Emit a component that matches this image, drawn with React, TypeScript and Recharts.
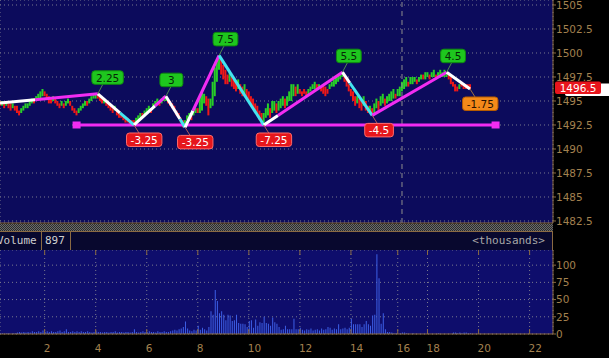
import React from 'react';
import { ComposedChart, Bar, Line, XAxis, YAxis, CartesianGrid, ReferenceLine, ReferenceDot, Cell } from 'recharts';

// ---------- data ----------
const xTicks = [21, 45, 69, 93, 117, 141, 165, 187, 201, 225, 249];
const xTickLabels = ['2', '4', '6', '8', '10', '12', '14', '16', '18', '20', '22'];
const priceTicks = [1482.5, 1485, 1487.5, 1490, 1492.5, 1495, 1497.5, 1500, 1502.5, 1505];
const volumeTicks = [0, 25, 50, 75, 100];

const priceBars: [number, number][] = [
  [1494.5, 1495], [1494.5, 1495], [1494.25, 1494.75], [1494.5, 1495], [1494.25, 1494.75], [1494, 1494.75], [1494.25, 1494.75], [1494, 1494.5], [1493.75, 1494.5], [1493.5, 1494],
  [1493.75, 1494.25], [1494, 1494.5], [1494.25, 1494.75], [1494.25, 1494.75], [1494.5, 1495], [1494.75, 1495.25], [1494.75, 1495.25], [1495, 1495.5], [1495.25, 1495.75], [1495.25, 1496],
  [1495.5, 1496.25], [1495.5, 1496], [1495.25, 1495.75], [1494.75, 1495.5], [1494.75, 1495.25], [1495, 1495.5], [1494.75, 1495.25], [1494.5, 1495], [1494.25, 1494.75], [1494.5, 1495],
  [1494.25, 1494.75], [1494.5, 1495], [1494.75, 1495.25], [1494.5, 1495], [1494, 1494.5], [1493.75, 1494.25], [1493.5, 1494], [1493.75, 1494.25], [1494, 1494.5], [1494.25, 1494.75],
  [1494.5, 1495], [1494.5, 1495], [1494.75, 1495.25], [1495, 1495.5], [1495.25, 1495.75], [1495.25, 1495.75], [1495.25, 1495.75], [1495, 1495.5], [1494.75, 1495.25], [1494.75, 1495.25],
  [1494.5, 1495], [1494.25, 1494.75], [1494, 1494.5], [1493.75, 1494.25], [1494, 1494.5], [1493.5, 1494], [1493.25, 1493.75], [1493.25, 1493.75], [1493, 1493.5], [1492.75, 1493.25],
  [1492.75, 1493.25], [1492.5, 1493], [1492.5, 1493], [1492.5, 1493], [1492.75, 1493.25], [1493, 1493.5], [1493.25, 1493.75], [1493.25, 1493.75], [1493.5, 1494], [1493.75, 1494.25],
  [1494, 1494.5], [1493.75, 1494.25], [1494.25, 1494.75], [1494.5, 1495], [1494.75, 1495.25], [1494.5, 1495], [1494.75, 1495.25], [1495, 1495.5], [1495, 1495.5], [1494.75, 1495.25],
  [1494.5, 1495], [1494.25, 1494.75], [1494, 1494.5], [1493.5, 1494], [1493.25, 1493.75], [1492.75, 1493.25], [1492.25, 1493], [1492.5, 1493], [1493, 1493.5], [1493.25, 1493.75],
  [1493, 1493.5], [1493.5, 1494], [1493.75, 1494.25], [1493.75, 1494.25], [1493.75, 1495.5], [1494, 1496], [1494.75, 1495.75], [1494.5, 1495.5], [1493.5, 1495.25], [1494.25, 1495.25],
  [1494.5, 1497], [1495.5, 1498.5], [1497, 1499.25], [1498.25, 1499.75], [1497.75, 1499.5], [1497.25, 1498.75], [1496.75, 1498.25], [1496.75, 1497.75], [1497, 1498], [1496.5, 1497.5],
  [1496.25, 1497.25], [1496, 1497], [1496.25, 1497.25], [1495.75, 1496.75], [1495.5, 1496.5], [1495.75, 1496.75], [1495.25, 1496.25], [1495, 1496], [1494.5, 1495.5], [1494.25, 1495.25],
  [1493.75, 1494.75], [1493.5, 1494.5], [1493, 1494], [1492.5, 1493.75], [1492.75, 1493.75], [1493.25, 1494.25], [1493.5, 1494.75], [1493.25, 1494.25], [1493.75, 1495], [1494, 1495],
  [1493.75, 1494.75], [1494, 1495], [1494.25, 1495.25], [1494.5, 1495.5], [1494.25, 1495.25], [1494.5, 1495.5], [1495, 1496], [1495, 1496.75], [1495.5, 1496.75], [1495.5, 1496.5],
  [1495.75, 1496.75], [1495.75, 1496.25], [1495.5, 1496], [1495.75, 1496.25], [1495.5, 1496], [1495.75, 1496.25], [1496, 1496.5], [1496.25, 1496.75], [1496.25, 1497], [1496.25, 1496.75],
  [1496.25, 1496.75], [1496, 1496.5], [1495.75, 1496.75], [1495.5, 1496.5], [1495.75, 1496.25], [1496.25, 1496.75], [1496.5, 1497], [1496.5, 1497.25], [1496.75, 1497.5], [1497, 1497.75],
  [1497.25, 1497.75], [1497.5, 1498], [1497, 1497.75], [1496.5, 1497.25], [1496, 1496.75], [1495.5, 1496.25], [1495, 1496], [1494.5, 1495.5], [1494.75, 1495.5], [1494.25, 1495.25],
  [1494, 1495], [1494.5, 1495.5], [1494, 1495], [1493.75, 1494.5], [1493.75, 1494.5], [1493.5, 1494.25], [1493.75, 1494.75], [1494.25, 1495.25], [1494, 1495], [1494.5, 1495.5],
  [1494.75, 1495.75], [1494.5, 1495.25], [1494.75, 1495.5], [1495, 1495.75], [1495, 1496], [1495.25, 1496.25], [1495.25, 1495.75], [1495.5, 1496.25], [1495.5, 1496.5], [1496, 1497],
  [1496.25, 1497.25], [1496.5, 1497.5], [1496.5, 1497], [1496.75, 1497.5], [1496.75, 1497.5], [1497, 1497.5], [1496.75, 1497.25], [1497, 1497.5], [1497.25, 1497.75], [1497.25, 1497.75],
  [1497.25, 1498], [1497.5, 1498], [1497.25, 1497.75], [1497.5, 1498], [1497.5, 1498.25], [1497.25, 1497.75], [1497.5, 1498], [1497.5, 1498.25], [1497.5, 1498], [1497.5, 1498.25],
  [1497.5, 1498], [1497.25, 1497.75], [1496.75, 1497.5], [1496.5, 1497], [1496, 1496.75], [1496, 1496.5], [1496.25, 1496.75], [1496.5, 1497], [1496.25, 1496.75], [1496.25, 1496.75],
  [1496.25, 1496.75], [1496.25, 1496.75],
];

const barColors =
  'rgrgrrgrrr' + 'ggggggrggg' + 'grrrrgrrrg' + 'rggrrrrggg' + 'grggggrrrg' +
  'rrrrgrrrrr' + 'rrrrgggrgg' + 'grgggrgggr' + 'rrrrrrrggg' + 'rggrgggrrg' +
  'ggggrrrrgr' + 'rrgrrgrrrr' + 'rrrrgggrgg' + 'rgggrggggr' + 'grrrrggggr' +
  'grrrrggggg' + 'ggrrrrrrgr' + 'rgrrgrggrg' + 'grggggrggg' + 'ggrgggrggr' +
  'ggrggrgggg' + 'grrrrrgrrr' + 'rr';

const volumes = [
  1, 1, 0, 1, 1, 0, 1, 1, 2, 3,
  2, 3, 2, 3, 2, 4, 3, 3, 4, 3,
  5, 3, 4, 3, 4, 3, 3, 4, 5, 3,
  4, 7, 3, 3, 4, 3, 4, 3, 4, 3,
  3, 4, 3, 2, 3, 4, 3, 3, 2, 3,
  3, 2, 3, 3, 4, 2, 3, 3, 2, 3,
  3, 2, 3, 7, 3, 2, 3, 4, 3, 3,
  4, 3, 3, 2, 4, 3, 3, 4, 3, 3,
  4, 5, 6, 5, 7, 8, 10, 18, 8, 5,
  4, 6, 5, 12, 6, 9, 7, 5, 10, 33,
  28, 64, 48, 30, 33, 28, 20, 28, 27, 19,
  20, 28, 16, 15, 15, 14, 10, 19, 20, 9,
  21, 12, 17, 16, 25, 16, 15, 12, 24, 17,
  15, 10, 6, 7, 12, 7, 7, 7, 22, 7,
  7, 9, 6, 5, 7, 6, 8, 5, 6, 7,
  5, 8, 6, 7, 10, 9, 6, 8, 7, 14,
  7, 8, 9, 7, 9, 22, 14, 14, 14, 14,
  10, 14, 19, 14, 12, 27, 28, 116, 81, 15,
  30, 7, 3, 3, 2, 1, 1, 0, 1, 2,
  2, 1, 0, 0, 1, 0, 0, 0, 0, 0,
  0, 0, 0, 0, 0, 0, 1, 0, 0, 0,
  0, 0, 0, 2, 2, 1, 2, 1, 2, 2,
  1, 1,
];

const pivotIdx = [0, 46, 63, 78, 87, 103, 124, 161, 175, 210, 221];
const pivotPrice = [1494.8, 1495.75, 1492.5, 1495.5, 1492.25, 1499.75, 1492.5, 1498, 1493.5, 1498, 1496.25];
const legColor = ['magenta', 'cyan', 'magenta', 'cyan', 'magenta', 'cyan', 'magenta', 'cyan', 'magenta', 'white'];
const legSplit = [16.5, 56.4, 72.9, 84.6, 90.7, 103, 130.7, 164.5, 175, 221];
const pivotLabels = ['', '2.25', '-3.25', '3', '-3.25', '7.5', '-7.25', '5.5', '-4.5', '4.5', '-1.75'];
const pivotKinds = ['', 'up', 'down', 'up', 'down', 'up', 'down', 'up', 'down', 'up', 'pending'];

const supportLevel = 1492.5;
const supportFrom = 36;
const supportTo = 233;
const sessionBreak = 189;
const lastPrice = 1496.5;
const volumeValue = '897';

// ---------- styles ----------
const BROWN = '#8a6a42';
const BROWN_TEXT = '#a3814f';
const GRID = '#7a7a8e';
const LINE_COLORS: Record<string, string> = { magenta: '#f22cf2', cyan: '#44e4ef', white: '#ffffff' };
const X_DOMAIN: [number, number] = [0, 260];

const priceData = priceBars.map((b, i) => ({ i, range: b, c: barColors[i] }));
const volumeData = volumes.map((v, i) => ({ i, v }));

type Pt = { i: number; p: number };
const segments: { color: string; pts: Pt[] }[] = [];
for (let k = 0; k < pivotIdx.length - 1; k++) {
  const a = pivotIdx[k], b = pivotIdx[k + 1];
  const pa = pivotPrice[k], pb = pivotPrice[k + 1];
  const s = legSplit[k];
  const ps = pa + ((pb - pa) * (s - a)) / (b - a);
  if (s > a) segments.push({ color: 'white', pts: [{ i: a, p: pa }, { i: s, p: ps }] });
  if (s < b) segments.push({ color: legColor[k], pts: [{ i: s, p: ps }, { i: b, p: pb }] });
}
const labelPoints = pivotIdx.slice(1).map((idx, k) => ({
  i: idx,
  p: pivotPrice[k + 1],
  label: pivotLabels[k + 1],
  kind: pivotKinds[k + 1],
}));
const supportPoints = [
  { i: supportFrom, p: supportLevel },
  { i: supportTo, p: supportLevel },
];

const charW = (ch: string) => (ch === '.' ? 3.4 : ch === '-' ? 3.9 : 6.7);

const LabelMark = (props: any) => {
  const { cx, cy, payload, index } = props;
  if (cx == null || cy == null) return <g key={index} />;
  const text: string = payload.label;
  const kind: string = payload.kind;
  const tw = text.split('').reduce((s, c) => s + charW(c), 0);
  const w = Math.max(23, tw + 8);
  const h = 13.5;
  const up = kind === 'up';
  const bx = cx - (up ? 6 : 7.5);
  const by = up ? cy - 9.5 - h : cy + 8;
  const st =
    kind === 'up'
      ? { fill: '#1ec61e', stroke: '#0e8a0e', text: '#062806', lead: '#4f8a4f' }
      : kind === 'down'
      ? { fill: '#e6161c', stroke: '#ff6a6a', text: '#ffffff', lead: '#b45a5a' }
      : { fill: '#f48a1a', stroke: '#b85c00', text: '#2a1200', lead: '#a07040' };
  const ly = up ? by + h : by;
  return (
    <g key={index}>
      <line x1={cx} y1={cy} x2={cx + 5} y2={ly} stroke={st.lead} strokeWidth={1} />
      <rect x={bx} y={by} width={w} height={h} rx={3} ry={3} fill={st.fill} stroke={st.stroke} strokeWidth={1} />
      <text x={bx + w / 2} y={by + h / 2 + 4} textAnchor="middle" fontSize={10.5} fontFamily="DejaVu Sans" fill={st.text}>
        {text}
      </text>
    </g>
  );
};

const SquareDot = (props: any) => {
  const { cx, cy, index } = props;
  if (cx == null || cy == null) return <g key={index} />;
  return <rect key={index} x={cx - 4} y={cy - 3.5} width={8} height={7} fill={LINE_COLORS.magenta} />;
};

const LastPriceTag = (props: any) => {
  const { cx, cy } = props;
  return (
    <g>
      <rect x={cx + 12} y={cy - 3} width={60} height={12.5} rx={2} fill="#ffffff" />
      <rect x={cx + 2} y={cy - 5} width={46} height={12.5} rx={2} fill="#e8141c" />
      <text x={cx + 25} y={cy + 5} textAnchor="middle" fontSize={10.5} fontFamily="DejaVu Sans" fill="#ffffff">
        {String(lastPrice)}
      </text>
    </g>
  );
};

const VolumeXTick = (props: any) => {
  const { x, y, index } = props;
  return (
    <g>
      <line x1={x} x2={x} y1={y} y2={y - 5} stroke={BROWN} />
      <line x1={x} x2={x} y1={y - 84} y2={y - 79} stroke={BROWN} />
      <text x={x - 1} y={y + 18} textAnchor="start" fontSize={10.5} fontFamily="DejaVu Sans" fill={BROWN_TEXT}>
        {xTickLabels[index]}
      </text>
    </g>
  );
};

const axisTick = { fill: BROWN_TEXT, fontSize: 10.5, fontFamily: 'DejaVu Sans' };

export default function App() {
  return (
    <div style={{ position: 'absolute', left: 0, top: 0, width: 609, height: 358, background: '#000', overflow: 'hidden' }}>
      <div style={{ position: 'absolute', left: 0, top: 0 }}>
        <ComposedChart width={609} height={232} data={priceData} margin={{ top: 0, right: 0, bottom: 9, left: 0 }}>
          <CartesianGrid stroke={GRID} strokeDasharray="1 3" fill="#0c0b5c" fillOpacity={1} />
          <XAxis
            dataKey="i"
            type="number"
            domain={X_DOMAIN}
            allowDataOverflow
            ticks={xTicks}
            interval={0}
            height={1}
            mirror
            tick={false}
            tickSize={5}
            tickLine={{ stroke: BROWN }}
            axisLine={{ stroke: BROWN }}
          />
          <XAxis xAxisId="ov" dataKey="i" type="number" domain={X_DOMAIN} allowDataOverflow hide />
          <YAxis
            orientation="right"
            type="number"
            domain={[1482.29, 1505.52]}
            allowDataOverflow
            ticks={priceTicks}
            interval={0}
            width={56}
            tickSize={3}
            tickMargin={0}
            tick={axisTick}
            tickLine={{ stroke: BROWN }}
            axisLine={{ stroke: BROWN }}
          />
          <ReferenceLine xAxisId="ov" x={sessionBreak} stroke="#8e8e8e" strokeDasharray="5 4" />
          <Bar dataKey="range" barSize={2} isAnimationActive={false}>
            {priceData.map((d, k) => (
              <Cell key={k} fill={d.c === 'g' ? '#28cf28' : '#f01818'} />
            ))}
          </Bar>
          <Line
            xAxisId="ov"
            data={supportPoints}
            dataKey="p"
            type="linear"
            stroke={LINE_COLORS.magenta}
            strokeWidth={3}
            dot={SquareDot}
            activeDot={false}
            isAnimationActive={false}
          />
          {segments.map((s, k) => (
            <Line
              key={k}
              xAxisId="ov"
              data={s.pts}
              dataKey="p"
              type="linear"
              stroke={LINE_COLORS[s.color]}
              strokeWidth={3}
              dot={false}
              activeDot={false}
              isAnimationActive={false}
            />
          ))}
          <Line
            xAxisId="ov"
            data={labelPoints}
            dataKey="p"
            type="linear"
            stroke="none"
            strokeWidth={0}
            dot={LabelMark}
            activeDot={false}
            isAnimationActive={false}
          />
          <ReferenceDot xAxisId="ov" x={X_DOMAIN[1]} y={lastPrice} r={0} shape={LastPriceTag} />
        </ComposedChart>
      </div>

      {/* separator band */}
      <div
        style={{
          position: 'absolute',
          left: 0,
          top: 224,
          width: 553,
          height: 7,
          backgroundImage: 'repeating-conic-gradient(#6a6a6a 0 25%, #2c2c2c 0 50%)',
          backgroundSize: '2px 2px',
        }}
      />
      {/* volume header */}
      <div
        style={{
          position: 'absolute',
          left: 0,
          top: 231,
          width: 553,
          height: 20,
          boxSizing: 'border-box',
          background: '#08082e',
          borderTop: `1px solid ${BROWN}`,
          borderBottom: `1px solid ${BROWN}`,
          borderRight: `1px solid ${BROWN}`,
          fontFamily: 'DejaVu Sans Mono',
          fontSize: 11,
          lineHeight: '18px',
          color: '#cfcfcf',
        }}
      >
        <span style={{ position: 'absolute', left: -3, top: 0 }}>Volume</span>
        <div style={{ position: 'absolute', left: 41, top: 0, width: 1, height: 18, background: BROWN }} />
        <span style={{ position: 'absolute', left: 45, top: 0 }}>{volumeValue}</span>
        <div style={{ position: 'absolute', left: 70, top: 0, width: 1, height: 18, background: BROWN }} />
        <span style={{ position: 'absolute', right: 7, top: 0, color: '#a8a8a8' }}>{'<thousands>'}</span>
      </div>

      <div style={{ position: 'absolute', left: 0, top: 250 }}>
        <ComposedChart width={609} height={108} data={volumeData} margin={{ top: 0, right: 0, bottom: 0, left: 0 }}>
          <CartesianGrid stroke={GRID} strokeDasharray="1 3" fill="#0e0d6c" fillOpacity={1} />
          <XAxis
            dataKey="i"
            type="number"
            domain={X_DOMAIN}
            allowDataOverflow
            ticks={xTicks}
            interval={0}
            height={24}
            tickSize={0}
            tickMargin={0}
            tickLine={false}
            axisLine={{ stroke: BROWN }}
            tick={<VolumeXTick />}
          />
          <YAxis
            orientation="right"
            type="number"
            domain={[0, 122]}
            allowDataOverflow
            ticks={volumeTicks}
            interval={0}
            width={56}
            tickSize={3}
            tickMargin={0}
            tick={axisTick}
            tickLine={{ stroke: BROWN }}
            axisLine={{ stroke: BROWN }}
          />
          <Bar dataKey="v" barSize={1} fill="#3d5fe6" isAnimationActive={false} />
        </ComposedChart>
      </div>
    </div>
  );
}
